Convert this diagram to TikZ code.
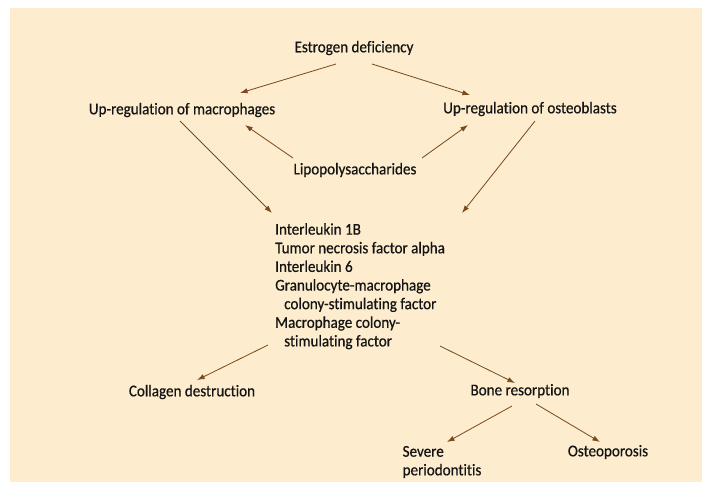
\documentclass[tikz,border=0pt]{standalone}
\usepackage{fontspec}
\setmainfont{Carlito}[Ligatures=NoCommon,FakeStretch=0.92,FakeBold=0.6]
\usetikzlibrary{arrows.meta,calc}
\definecolor{peach}{RGB}{253,237,206}
\definecolor{arrbrown}{RGB}{122,74,30}
\definecolor{txt}{RGB}{20,20,20}
\begin{document}
\begin{tikzpicture}[x=0.03cm,y=-0.03cm,
  lbl/.style={inner sep=0pt,text=txt,font=\fontsize{14}{15.9}\selectfont},
  arr/.style={draw=arrbrown,line width=0.7pt,-{Latex[length=6.5pt,width=4.5pt]}}]
\useasboundingbox (0,0) rectangle (702,491);
\fill[peach] (10,8) rectangle (702,482);
\node[lbl] (est) at (354,48) {Estrogen deficiency};
\node[lbl] (mac) at (182,110) {Up-regulation of macrophages};
\node[lbl] (ost) at (530,109) {Up-regulation of osteoblasts};
\node[lbl] (lps) at (355,170) {Lipopolysaccharides};
\node[lbl,align=left,anchor=north west] (cyt) at (275,223)
  {Interleukin 1B\\Tumor necrosis factor alpha\\Interleukin 6\\
   Granulocyte-macrophage\\\hspace*{0.27cm}colony-stimulating factor\\
   Macrophage colony-\\\hspace*{0.27cm}stimulating factor};
\node[lbl] (col) at (192,392) {Collagen destruction};
\node[lbl] (bone) at (520,391) {Bone resorption};
\node[lbl,align=left] (sev) at (442,462) {Severe\\periodontitis};
\node[lbl] (osp) at (608,452) {Osteoporosis};
\draw[arr] ($(est)+(-18,16)$) -- ($(mac)+(58,-17)$);
\draw[arr] ($(est)+(18,16)$) -- ($(ost)+(-60,-14)$);
\draw[arr] ($(lps)+(-62,-12)$) -- ($(mac)+(63,15)$);
\draw[arr] ($(lps)+(67,-12)$) -- ($(ost)+(-62,16)$);
\draw[arr] ($(mac)+(-2,11)$) -- ($(cyt.north west)+(-3,-10)$);
\draw[arr] ($(ost)+(5,12)$) -- ($(cyt.north west)+(187,-10)$);
\draw[arr] ($(cyt.north west)+(-7,122)$) -- ($(col)+(5,-12)$);
\draw[arr] ($(cyt.north west)+(165,123)$) -- ($(bone)+(-5,-8)$);
\draw[arr] ($(bone)+(-8,15)$) -- ($(sev)+(5,-20)$);
\draw[arr] ($(bone)+(16,13)$) -- ($(osp)+(-8,-10)$);
\end{tikzpicture}
\end{document}
